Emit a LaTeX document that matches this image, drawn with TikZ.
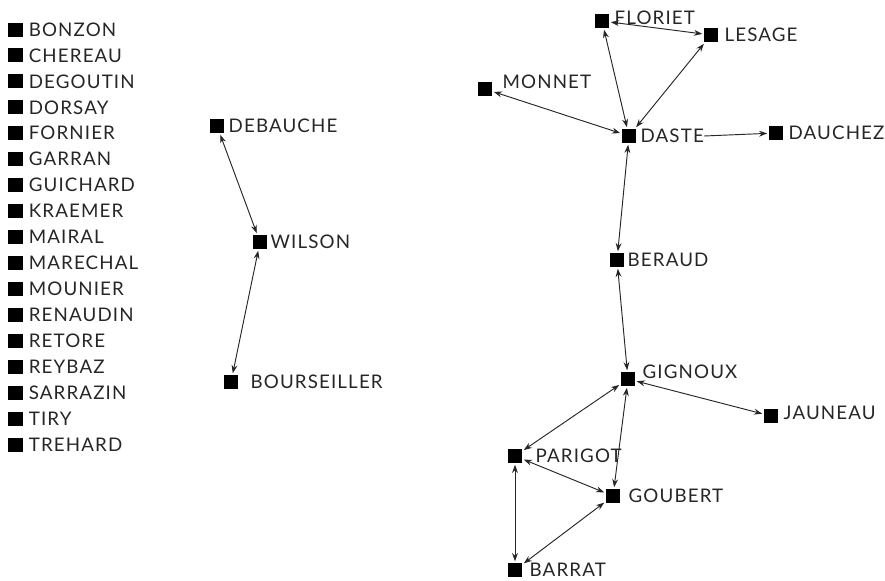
\documentclass[tikz,border=0pt]{standalone}
\usepackage{fontspec}
\setmainfont{Lato}[LetterSpace=6]
\usepackage{tikz}
\usetikzlibrary{arrows.meta,positioning}

\begin{document}
\begin{tikzpicture}[x=0.03cm, y=-0.03cm, >={Stealth[length=7pt,width=5pt]}]
    % Define styles
    \tikzstyle{actor} = [rectangle, fill=black, minimum size=0.42cm, inner sep=0pt, outer sep=1.5pt]
    \tikzstyle{actorname} = [inner sep=0pt, font=\fontsize{16}{16}\selectfont, text=black!85]
    \tikzstyle{tie} = [draw=black!85, line width=0.8pt, <->]

    \useasboundingbox (0,0) rectangle (885,581);

    % Isolated actors, listed on the left
    \foreach \nm [count=\i from 0] in {BONZON,CHEREAU,DEGOUTIN,DORSAY,FORNIER,GARRAN,GUICHARD,KRAEMER,MAIRAL,MARECHAL,MOUNIER,RENAUDIN,RETORE,REYBAZ,SARRAZIN,TIRY,TREHARD}
    {
        \node [actor] (iso\i) at (15.5,29.5+25.94*\i) {};
        \node [actorname, right=0.13cm of iso\i] {\nm};
    }

    % Small chain in the middle
    \node [actor] (debauche) at (217,126) {};
    \node [actor] (wilson) at (260,242) {};
    \node [actor] (bourseiller) at (231,382) {};
    \node [actorname, right=0.08cm of debauche] {DEBAUCHE};
    \node [actorname, right=0.05cm of wilson] {WILSON};
    \node [actorname, right=0.32cm of bourseiller] {BOURSEILLER};

    % Large group on the right
    \node [actor] (floriet) at (602,21) {};
    \node [actor] (lesage) at (711,35) {};
    \node [actor] (monnet) at (485,89) {};
    \node [actor] (daste) at (629,136) {};
    \node [actor] (dauchez) at (776,133) {};
    \node [actor] (beraud) at (617,260) {};
    \node [actor] (gignoux) at (628,379) {};
    \node [actor] (jauneau) at (771,416) {};
    \node [actor] (parigot) at (515,456) {};
    \node [actor] (goubert) at (613,496) {};
    \node [actor] (barrat) at (515,570) {};

    \node [actorname, right=0.11cm of floriet, yshift=3pt] {FLORIET};
    \node [actorname, right=0.14cm of lesage] {LESAGE};
    \node [actorname, right=0.26cm of monnet, yshift=6pt] {MONNET};
    \node [actorname, right=0.08cm of daste] (dastename) {DASTE};
    \node [actorname, right=0.11cm of dauchez] {DAUCHEZ};
    \node [actorname, right=0.05cm of beraud] {BERAUD};
    \node [actorname, right=0.17cm of gignoux, yshift=6pt] {GIGNOUX};
    \node [actorname, right=0.11cm of jauneau, yshift=3pt] {JAUNEAU};
    \node [actorname, right=0.35cm of parigot] {PARIGOT};
    \node [actorname, right=0.2cm of goubert] {GOUBERT};
    \node [actorname, right=0.17cm of barrat] {BARRAT};

    % Ties
    \draw [tie] (debauche) -- (wilson);
    \draw [tie] (wilson) -- (bourseiller);

    \draw [tie] (floriet) -- (lesage);
    \draw [tie] (floriet) -- (daste);
    \draw [tie] (lesage) -- (daste);
    \draw [tie] (monnet) -- (daste);
    \draw [tie, ->] (dastename.east) -- (dauchez);
    \draw [tie] (daste) -- (beraud);
    \draw [tie] (beraud) -- (gignoux);
    \draw [tie] (gignoux) -- (jauneau);
    \draw [tie] (gignoux) -- (parigot);
    \draw [tie] (gignoux) -- (goubert);
    \draw [tie] (parigot) -- (goubert);
    \draw [tie] (parigot) -- (barrat);
    \draw [tie] (goubert) -- (barrat);
\end{tikzpicture}
\end{document}
